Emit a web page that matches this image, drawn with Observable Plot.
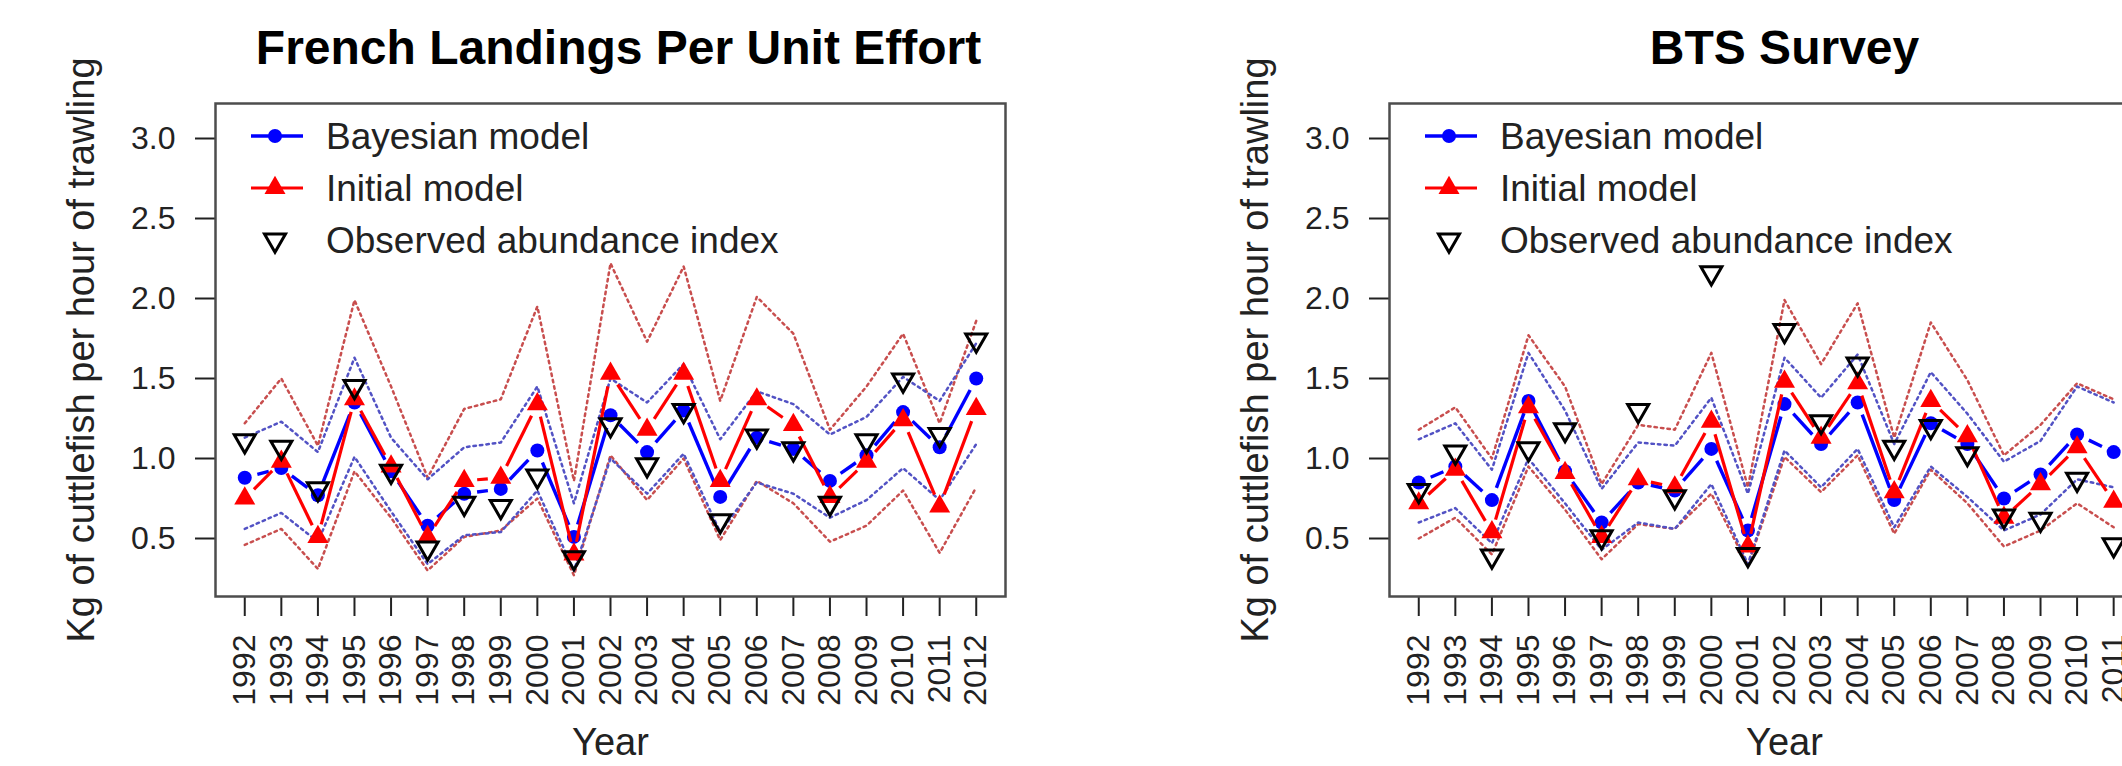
<!DOCTYPE html>
<html><head><meta charset="utf-8">
<script src="https://cdn.jsdelivr.net/npm/d3@7"></script>
<script src="https://cdn.jsdelivr.net/npm/@observablehq/plot@0.6"></script>
<style>
html,body{margin:0;padding:0;background:#fff;overflow:hidden}
#wrap{position:relative;width:2122px;height:766px;overflow:hidden;background:#fff}
#wrap svg{position:absolute;top:0}
#wrap svg g[aria-label$="axis tick"] path, #wrap svg .tick line{stroke-width:2px}
</style></head><body><div id="wrap"></div>
<script>
const years = [1992,1993,1994,1995,1996,1997,1998,1999,2000,2001,2002,2003,2004,2005,2006,2007,2008,2009,2010,2011,2012];
const yTicks = [0.5,1.0,1.5,2.0,2.5,3.0];
const panelTitles = ["French Landings Per Unit Effort", "BTS Survey"];
const legendLabels = ["Bayesian model", "Initial model", "Observed abundance index"];
const yLabel = "Kg of cuttlefish per hour of trawling";
const xLabel = "Year";

// French landings per unit effort
const lpueBayes     = [0.88,0.94,0.77,1.35,0.92,0.58,0.78,0.81,1.05,0.51,1.27,1.04,1.30,0.76,1.13,1.06,0.86,1.02,1.29,1.07,1.50];
const lpueBayesHi   = [1.13,1.23,1.04,1.63,1.13,0.87,1.07,1.10,1.45,0.72,1.50,1.35,1.59,1.12,1.42,1.34,1.15,1.26,1.51,1.36,1.72];
const lpueBayesLo   = [0.56,0.66,0.48,1.01,0.67,0.34,0.52,0.54,0.80,0.30,1.00,0.78,1.03,0.54,0.85,0.78,0.63,0.74,0.94,0.74,1.09];
const lpueInitial   = [0.75,0.98,0.51,1.37,0.95,0.51,0.86,0.88,1.34,0.40,1.53,1.18,1.53,0.86,1.37,1.21,0.76,0.98,1.24,0.70,1.31];
const lpueInitialHi = [1.22,1.50,1.08,1.99,1.45,0.88,1.31,1.37,1.95,0.86,2.22,1.73,2.20,1.36,2.01,1.78,1.18,1.45,1.78,1.22,1.86];
const lpueInitialLo = [0.46,0.56,0.31,0.92,0.63,0.30,0.51,0.55,0.75,0.27,1.02,0.74,1.00,0.49,0.86,0.72,0.48,0.58,0.80,0.41,0.82];
const lpueObserved  = [1.11,1.07,0.81,1.45,0.92,0.44,0.72,0.70,0.89,0.38,1.21,0.96,1.30,0.61,1.14,1.06,0.72,1.11,1.49,1.15,1.74];

// BTS survey (visible part, to 2011)
const btsBayes     = [0.85,0.95,0.74,1.36,0.92,0.60,0.85,0.80,1.06,0.55,1.34,1.09,1.35,0.74,1.22,1.09,0.75,0.90,1.15,1.04];
const btsBayesHi   = [1.12,1.22,0.93,1.66,1.30,0.81,1.10,1.08,1.38,0.78,1.63,1.38,1.65,1.09,1.54,1.28,0.98,1.11,1.45,1.35];
const btsBayesLo   = [0.60,0.69,0.47,1.00,0.72,0.43,0.60,0.56,0.84,0.34,1.05,0.82,1.06,0.57,0.95,0.76,0.55,0.65,0.87,0.82];
const btsInitial   = [0.72,0.93,0.54,1.32,0.91,0.51,0.87,0.82,1.23,0.45,1.48,1.13,1.47,0.79,1.36,1.14,0.63,0.84,1.07,0.73];
const btsInitialHi = [1.18,1.32,1.00,1.77,1.45,0.84,1.21,1.18,1.66,0.82,1.99,1.59,1.97,1.13,1.85,1.49,1.02,1.21,1.47,1.37];
const btsInitialLo = [0.50,0.63,0.40,0.95,0.68,0.37,0.59,0.56,0.78,0.33,1.01,0.79,1.02,0.53,0.93,0.72,0.45,0.55,0.72,0.57];
const btsObserved  = [0.80,1.04,0.39,1.06,1.18,0.51,1.30,0.76,2.16,0.40,1.80,1.23,1.59,1.07,1.20,1.03,0.64,0.62,0.87,0.46];

const FONT = '"Liberation Sans", Arial, Helvetica, sans-serif';
const BLUE = "#0000ff", RED = "#ff0000";
const BLUE_CI = "#5252c4", RED_CI = "#c84e4e";

function rowsFrom(s) {
  return years.map((year, i) => ({
    year, bayes: s.bayes[i], bayesHi: s.bayesHi[i], bayesLo: s.bayesLo[i],
    initial: s.initial[i], initialHi: s.initialHi[i], initialLo: s.initialLo[i], observed: s.observed[i]
  })).filter(d => d.bayes != null);
}
function segs(rows, key) {
  const out = [];
  for (let i = 0; i < rows.length - 1; i++)
    out.push({x1: rows[i].year, y1: rows[i][key], x2: rows[i + 1].year, y2: rows[i + 1][key]});
  return out;
}

function panel(series, title, layout) {
  const rows = rowsFrom(series);
  const ci = (key, color) => Plot.line(rows, {x: "year", y: key, stroke: color, strokeWidth: 2.5, strokeDasharray: "2.5,4"});
  const svg = Plot.plot({
    width: layout.width, height: 766,
    marginLeft: layout.ml, marginRight: 56, marginTop: 103, marginBottom: 170,
    style: {fontFamily: FONT, fontSize: "32px", color: "#222", background: "transparent"},
    x: {domain: [1991.2, 2012.8], ticks: years, tickFormat: d => String(d), tickRotate: -90, tickSize: 20, tickPadding: 18, label: null},
    y: {domain: [0.1375, 3.21875], ticks: yTicks, tickFormat: d3.format(".1f"), tickSize: 20, tickPadding: 20, label: null},
    marks: [
      ci("initialHi", RED_CI), ci("initialLo", RED_CI),
      ci("bayesHi", BLUE_CI), ci("bayesLo", BLUE_CI),
      Plot.arrow(segs(rows, "bayes"), {x1: "x1", y1: "y1", x2: "x2", y2: "y2", stroke: BLUE, strokeWidth: 3.4, headLength: 0, insetStart: 13, insetEnd: 13, strokeLinecap: "butt"}),
      Plot.dot(rows, {x: "year", y: "bayes", r: 7, fill: BLUE}),
      Plot.arrow(segs(rows, "initial"), {x1: "x1", y1: "y1", x2: "x2", y2: "y2", stroke: RED, strokeWidth: 3.2, headLength: 0, insetStart: 13, insetEnd: 13, strokeLinecap: "butt"}),
      Plot.dot(rows, {x: "year", y: "initial", symbol: "triangle", r: 7.8, fill: RED}),
      Plot.dot(rows, {x: "year", y: "observed", symbol: "triangle", rotate: 180, r: 7.8, fill: "none", stroke: "#000", strokeWidth: 3}),
      Plot.frame({stroke: "#4d4d4d", strokeWidth: 2.5}),
      Plot.text([title], {text: d => d, frameAnchor: "top", dy: -40, dx: layout.titleDx, lineAnchor: "bottom", fontSize: 48, fontWeight: "bold", fill: "#000"}),
      Plot.text([yLabel], {text: d => d, frameAnchor: "left", rotate: -90, dx: -122, textAnchor: "middle", lineAnchor: "bottom", fontSize: 38, fill: "#222"}),
      Plot.text([xLabel], {text: d => d, frameAnchor: "bottom", dy: 158, lineAnchor: "bottom", fontSize: 38, fill: "#222"})
    ]
  });
  svg.style.left = layout.left + "px";
  // legend inside the frame, top-left
  const g = d3.select(svg).append("g").attr("transform", `translate(${layout.ml},0)`).attr("text-anchor", "start");
  const rowsY = [136, 188, 240];
  const tri = d3.symbol(d3.symbolTriangle, Math.PI * 7.8 * 7.8)();
  g.append("line").attr("x1", 36).attr("x2", 88).attr("y1", rowsY[0]).attr("y2", rowsY[0]).attr("stroke", BLUE).attr("stroke-width", 3.4);
  g.append("circle").attr("cx", 60).attr("cy", rowsY[0]).attr("r", 7).attr("fill", BLUE);
  g.append("line").attr("x1", 36).attr("x2", 88).attr("y1", rowsY[1]).attr("y2", rowsY[1]).attr("stroke", RED).attr("stroke-width", 3.2);
  g.append("path").attr("d", tri).attr("transform", `translate(60,${rowsY[1]})`).attr("fill", RED);
  g.append("path").attr("d", tri).attr("transform", `translate(60,${rowsY[2]}) rotate(180)`).attr("fill", "none").attr("stroke", "#000").attr("stroke-width", 3);
  legendLabels.forEach((t, i) => {
    g.append("text").attr("x", 111).attr("y", rowsY[i] + 13).attr("text-anchor", "start")
      .attr("font-size", 37).attr("font-family", FONT).attr("fill", "#222").text(t);
  });
  return svg;
}

const wrap = document.getElementById("wrap");
wrap.appendChild(panel({bayes: lpueBayes, bayesHi: lpueBayesHi, bayesLo: lpueBayesLo, initial: lpueInitial, initialHi: lpueInitialHi, initialLo: lpueInitialLo, observed: lpueObserved}, panelTitles[0], {left: 0, width: 1061, ml: 215, titleDx: 8}));
wrap.appendChild(panel({bayes: btsBayes, bayesHi: btsBayesHi, bayesLo: btsBayesLo, initial: btsInitial, initialHi: btsInitialHi, initialLo: btsInitialLo, observed: btsObserved}, panelTitles[1], {left: 1061, width: 1174, ml: 328, titleDx: 0}));
</script></body></html>
